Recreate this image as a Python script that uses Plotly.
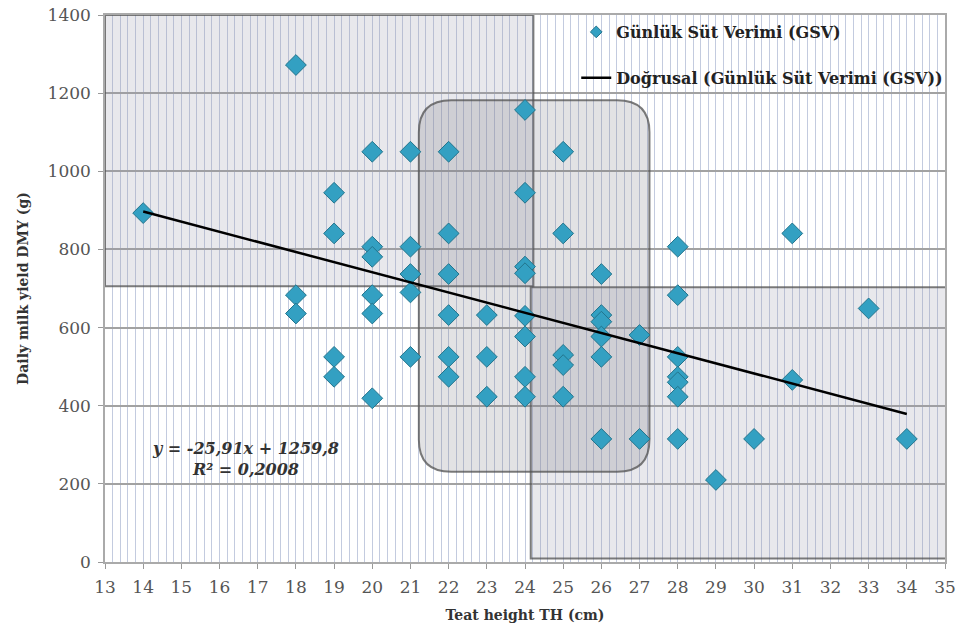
import plotly.graph_objects as go
import numpy as np

# Teat height (cm) and daily milk yield (g)
teat_height = [14,
               18, 18, 18,
               19, 19, 19, 19,
               20, 20, 20, 20, 20, 20,
               21, 21, 21, 21, 21,
               22, 22, 22, 22, 22, 22,
               23, 23, 23,
               24, 24, 24, 24, 24, 24, 24, 24,
               25, 25, 25, 25, 25,
               26, 26, 26, 26, 26, 26,
               27, 27,
               28, 28, 28, 28, 28, 28, 28,
               29, 30, 31, 31, 33, 34]
milk_yield = [893,
              1272, 683, 636,
              945, 841, 525, 474,
              1050, 807, 781, 683, 636, 419,
              1050, 807, 737, 690, 525,
              1050, 841, 737, 632, 525, 474,
              632, 525, 423,
              1157, 945, 756, 739, 630, 577, 474, 423,
              1050, 841, 530, 504, 423,
              737, 632, 615, 577, 525, 315,
              581, 315,
              807, 683, 525, 474, 460, 423, 315,
              210, 315, 841, 466, 649, 315]

trend_slope = -25.91
trend_intercept = 1259.8
r_squared = 0.2008

x_ticks = list(range(13, 36))
y_ticks = list(range(0, 1401, 200))

# highlighted regions: (x0, x1, y0, y1)
region_top_left = (13, 24.22, 706, 1400)
region_middle = (21.22, 27.26, 231, 1182)
region_bottom_right = (24.15, 35.1, 9, 703)

serif = "DejaVu Serif"

trend_x = np.array([min(teat_height), max(teat_height)], dtype=float)
trend_y = trend_slope * trend_x + trend_intercept

marker_style = dict(symbol="diamond", color="#33a0c2", line=dict(color="#23748c", width=1))

fig = go.Figure()
fig.add_trace(go.Scatter(
    x=teat_height, y=milk_yield, mode="markers", showlegend=False,
    name="Günlük Süt Verimi (GSV)",
    marker=dict(size=16, **marker_style),
))
# legend entry with the small legend symbol
fig.add_trace(go.Scatter(
    x=[None], y=[None], mode="markers", name="<b>Günlük Süt Verimi (GSV)</b>",
    marker=dict(size=9, **marker_style), legendgroup="a",
))
fig.add_trace(go.Scatter(
    x=trend_x, y=trend_y, mode="lines",
    name="<b>Doğrusal (Günlük Süt Verimi (GSV))</b>", legendgroup="b",
    line=dict(color="black", width=2.5),
))

def rect(b, fill):
    x0, x1, y0, y1 = b
    return dict(type="rect", xref="x", yref="y", x0=x0, x1=x1, y0=y0, y1=y1,
                fillcolor=fill, line=dict(color="rgba(80,80,80,0.75)", width=2),
                layer="between")

def rounded(b, rx, ry, fill):
    x0, x1, y0, y1 = b
    p = (f"M {x0+rx},{y0} L {x1-rx},{y0} Q {x1},{y0} {x1},{y0+ry} "
         f"L {x1},{y1-ry} Q {x1},{y1} {x1-rx},{y1} L {x0+rx},{y1} "
         f"Q {x0},{y1} {x0},{y1-ry} L {x0},{y0+ry} Q {x0},{y0} {x0+rx},{y0} Z")
    return dict(type="path", xref="x", yref="y", path=p, fillcolor=fill,
                line=dict(color="rgba(80,80,80,0.75)", width=2), layer="between")

fig.update_layout(shapes=[
    rect(region_top_left, "rgba(150,150,170,0.22)"),
    rect(region_bottom_right, "rgba(150,150,170,0.22)"),
    rounded(region_middle, 0.85, 82, "rgba(110,110,120,0.2)"),
])

fig.add_annotation(
    x=16.68, y=264, xref="x", yref="y", showarrow=False, align="center",
    text=f"<b><i>y = -25,91x + 1259,8<br>R² = {str(r_squared).replace('.', ',')}</i></b>",
    font=dict(family=serif, size=16, color="#333"),
)

axis_common = dict(showline=True, linecolor="#aaa", linewidth=1.5, ticks="outside",
                   ticklen=5, tickcolor="#999", mirror=True, automargin=False,
                   ticklabeloverflow="allow",
                   tickfont=dict(family=serif, size=17, color="#555"), zeroline=False)

fig.update_xaxes(range=[13, 35], tickvals=x_ticks, showgrid=False,
                 ticklabelstandoff=4,
                 minor=dict(dtick=0.2, showgrid=True, gridcolor="#c3cbdf", gridwidth=1,
                            ticks=""),
                 title=dict(text="<b>Teat height TH (cm)</b>",
                            font=dict(family=serif, size=14, color="#333"), standoff=14),
                 **axis_common)
fig.update_yaxes(range=[0, 1400], tickvals=y_ticks, showgrid=True,
                 gridcolor="#a2a2a2", gridwidth=2, ticklabelstandoff=4,
                 title=dict(text="<b>Daily milk yield DMY (g)</b>",
                            font=dict(family=serif, size=14, color="#333"), standoff=16),
                 **axis_common)

fig.update_layout(
    width=958, height=630,
    font=dict(family=serif),
    margin=dict(l=105, r=10, t=15, b=68),
    paper_bgcolor="white", plot_bgcolor="white",
    showlegend=True,
    legend=dict(x=0.561, y=1.0, xanchor="left", yanchor="top",
                bgcolor="rgba(0,0,0,0)",
                tracegroupgap=22, traceorder="grouped",
                font=dict(family=serif, size=16, color="#222")),
)

# remove the page's default body margin so the figure sits at the window's corner
fig.write_html("out.html", config={"displayModeBar": False},
               post_script="document.body.style.margin='0';")
